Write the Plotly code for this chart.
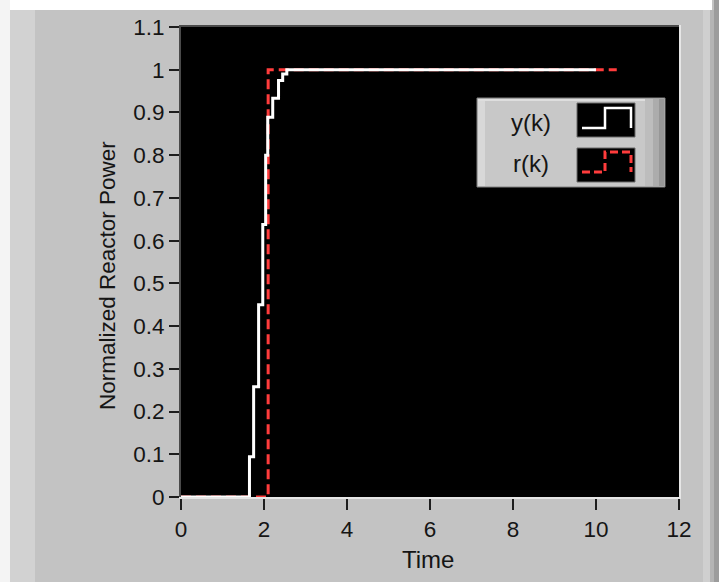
import plotly.graph_objects as go

# ---- data ----
t_y = [0, 1.65, 1.75, 1.87, 1.97, 2.04, 2.09, 2.21, 2.35, 2.45, 2.55, 10.0]
y_k = [0, 0.094, 0.258, 0.45, 0.638, 0.80, 0.889, 0.933, 0.975, 0.99, 1.0, 1.0]
t_r = [0, 2.1, 10.5]
r_k = [0, 1.0, 1.0]
x_ticks = [0, 2, 4, 6, 8, 10, 12]
y_ticks = [0, 0.1, 0.2, 0.3, 0.4, 0.5, 0.6, 0.7, 0.8, 0.9, 1.0, 1.1]
y_tick_text = ["0", "0.1", "0.2", "0.3", "0.4", "0.5", "0.6", "0.7", "0.8", "0.9", "1", "1.1"]
legend_names = ["y(k)", "r(k)"]

W, H = 719, 582
L, R, T, B = 181, 679, 27, 497
PW, PH = R - L, B - T

def px(x):
    return (x - L) / PW

def py(y):
    return (B - y) / PH

FONT = "Liberation Sans"
TXT = "#151515"
PANEL = "#c3c3c3"

fig = go.Figure()
fig.add_trace(go.Scatter(x=t_r, y=r_k, mode="lines", line_shape="hv",
                         line=dict(color="#ff3c3c", width=3, dash="10px,5px"),
                         name=legend_names[1], hoverinfo="skip"))
fig.add_trace(go.Scatter(x=t_y, y=y_k, mode="lines", line_shape="hv",
                         line=dict(color="#ffffff", width=3),
                         name=legend_names[0], hoverinfo="skip"))

shapes = []
def rect(x0, y0, x1, y1, fill, layer="above", line=None):
    d = dict(type="rect", xref="paper", yref="paper",
             x0=px(x0), x1=px(x1), y0=py(y1), y1=py(y0),
             fillcolor=fill, layer=layer, line=dict(width=0))
    if line:
        d["line"] = line
    shapes.append(d)

# panel decoration
rect(0, 0, 712, 10, "#ffffff", layer="below")
rect(0, 0, 10, H, "#f4f4f4", layer="below")
rect(10, 10, 35, H, "#d2d2d2", layer="below")
rect(703, 10, 710, H, "#cfcfcf", layer="below")
rect(710, 10, 714, H, "#b4b4b4", layer="below")
rect(714, 0, W, H, "#9c9c9c", layer="below")

# plot frame (inset look)
rect(L - 2, T - 2, R, T, "#4a4a4a")
rect(L - 2, T - 2, L, B, "#4a4a4a")
rect(L - 2, B, R + 2, B + 2, "#e6e6e6")
rect(R, T - 2, R + 2, B + 2, "#e6e6e6")

# legend box
lx0, ly0, lx1, ly1 = 477, 98, 665, 187
rect(lx0, ly0, lx1, ly1, "#c8c8c8", line=dict(color="#808080", width=1))
rect(lx0 + 1, ly0 + 1, lx0 + 8, ly1 - 1, "#d8d8d8")
rect(lx0 + 1, ly0 + 1, lx1 - 1, ly0 + 3, "#dedede")
rect(lx1 - 20, ly0 + 1, lx1 - 12, ly1 - 1, "#bdbdbd")
rect(lx1 - 12, ly0 + 1, lx1 - 6, ly1 - 1, "#acacac")
rect(lx1 - 6, ly0 + 1, lx1 - 1, ly1 - 1, "#979797")
# icon boxes
rect(577, 103, 635, 137, "#000000", line=dict(color="#6a6a6a", width=1))
rect(577, 148, 635, 182, "#000000", line=dict(color="#6a6a6a", width=1))

def path(pts):
    return "M " + " L ".join(f"{px(a):.5f},{py(b):.5f}" for a, b in pts)

shapes.append(dict(type="path", xref="paper", yref="paper",
                   path=path([(582, 128), (605, 128), (605, 108), (631, 108), (631, 128)]),
                   line=dict(color="#ffffff", width=2.5)))
shapes.append(dict(type="path", xref="paper", yref="paper",
                   path=path([(582, 172), (605, 172), (605, 152), (631, 152), (631, 172)]),
                   line=dict(color="#ff3c3c", width=3, dash="8px,4px")))

annotations = [
    dict(text=legend_names[0], xref="paper", yref="paper", x=px(531), y=py(122),
         showarrow=False, xanchor="center", yanchor="middle",
         font=dict(family=FONT, size=24, color=TXT)),
    dict(text=legend_names[1], xref="paper", yref="paper", x=px(531), y=py(163),
         showarrow=False, xanchor="center", yanchor="middle",
         font=dict(family=FONT, size=24, color=TXT)),
    dict(text="Normalized Reactor Power", xref="paper", yref="paper",
         x=px(107), y=py(276), textangle=-90, showarrow=False,
         xanchor="center", yanchor="middle",
         font=dict(family=FONT, size=22.5, color=TXT)),
    dict(text="Time", xref="paper", yref="paper", x=px(428), y=py(559),
         showarrow=False, xanchor="center", yanchor="middle",
         font=dict(family=FONT, size=24, color=TXT)),
]

fig.update_layout(
    width=W, height=H,
    margin=dict(l=L, r=W - R, t=T, b=H - B, pad=0),
    paper_bgcolor=PANEL, plot_bgcolor="#000000",
    showlegend=False,
    shapes=shapes, annotations=annotations,
    font=dict(family=FONT, size=22, color=TXT),
    xaxis=dict(range=[0, 12], tickvals=x_ticks, ticks="outside", ticklen=12,
               tickwidth=1.5, tickcolor="#1e1e1e", showgrid=False, zeroline=False,
               showline=False, fixedrange=True,
               tickfont=dict(family=FONT, size=22.5, color=TXT)),
    yaxis=dict(range=[0, 1.1], tickvals=y_ticks, ticktext=y_tick_text,
               ticks="outside", ticklen=11, tickwidth=1.5, tickcolor="#1e1e1e",
               showgrid=False, zeroline=False, showline=False, fixedrange=True,
               tickfont=dict(family=FONT, size=22.5, color=TXT)),
)

fig.write_html("out.html", config={"displayModeBar": False})
